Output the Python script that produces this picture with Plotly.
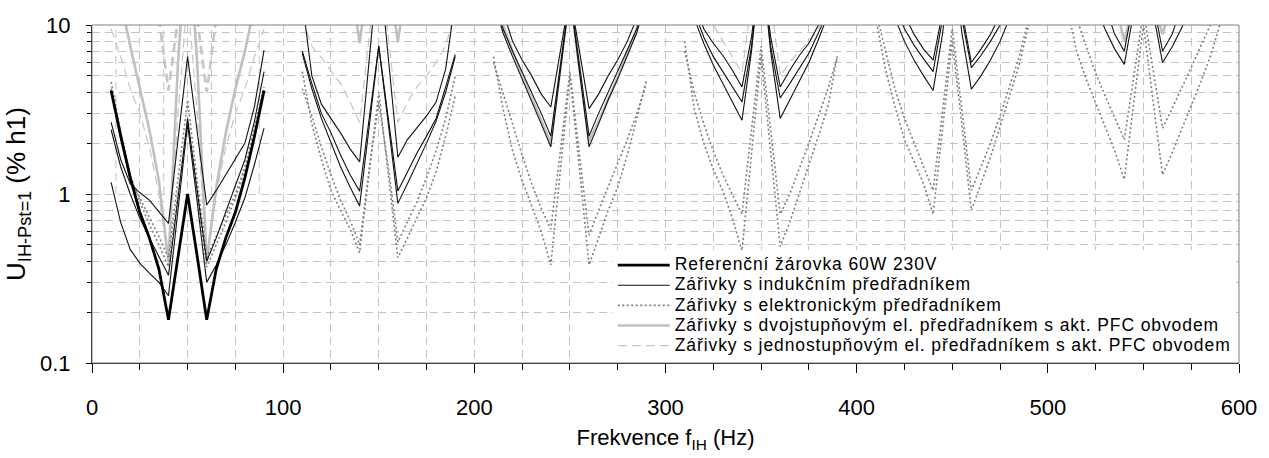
import plotly.graph_objects as go

# ---------------- data ----------------
OFFSETS = [10, 15, 20, 25, 30, 35, 40, 45, 50, 55, 60, 65, 70, 75, 80, 85, 90]
LOBE_BASES = [0, 100, 200, 300, 400, 500]
X_TICKS = [0, 100, 200, 300, 400, 500, 600]
Y_TICKS = [0.1, 1, 10]
Y_TICKTEXT = ["0.1", "1", "10"]
Y_MINOR = [0.2, 0.3, 0.4, 0.5, 0.6, 0.7, 0.8, 0.9, 2, 3, 4, 5, 6, 7, 8, 9]
EXTRA_GRID_X = [12.5, 37.5, 62.5, 87.5]

LEGEND_NAMES = [
    "Referenční žárovka 60W 230V",
    "Zářivky s indukčním předřadníkem",
    "Zářivky s elektronickým předřadníkem",
    "Zářivky s dvojstupňovým el. předřadníkem s akt. PFC obvodem",
    "Zářivky s jednostupňovým el. předřadníkem s akt. PFC obvodem",
]

# Referenční žárovka (thick black) - only first lobe inside the chart
BULB = [
    [4.1, 2.2, 1.25, 0.78, 0.55, 0.36, 0.18, 0.43, 1.0, 0.43, 0.18, 0.36, 0.55, 0.78, 1.25, 2.2, 4.1],
    None, None, None, None, None,
]

# Zářivky s indukčním předřadníkem (thin black), three lamps
IND_A = [
    [2.65, 1.6, 1.15, 1.02, 0.92, 0.78, 0.67, 2.1, 6.5, 2.35, 0.86, 1.05, 1.3, 1.6, 2.0, 3.3, 7.1],
    [14, 5.0, 3.4, 2.8, 2.3, 1.85, 1.55, 6.2, 25, 6.4, 1.65, 2.1, 2.45, 2.9, 3.5, 5.5, 14],
    [14, 12, 8.0, 6.2, 5.0, 3.9, 3.27, 7.0, 15, 7.0, 3.2, 3.9, 5.0, 6.2, 8.0, 11, 15],
    [25, 14, 9.5, 7.8, 6.6, 5.4, 4.3, 8.5, 25, 8.5, 4.3, 5.4, 6.6, 7.8, 10, 14, 25],
    [None, 25, 16, 11.5, 8.8, 7.2, 6.2, 12, 30, 12, 6.0, 7.2, 8.8, 11.5, 16, 25, None],
    None,
]
IND_B = [
    [2.4, 1.45, 1.0, 0.72, 0.55, 0.43, 0.33, 0.95, 2.8, 1.05, 0.40, 0.55, 0.78, 1.1, 1.6, 2.7, 5.3],
    [7.0, 4.5, 3.0, 2.3, 1.7, 1.3, 1.04, 2.8, 7.5, 2.8, 1.04, 1.35, 1.75, 2.2, 2.8, 4.3, 6.7],
    [15, 9.5, 7.0, 5.3, 4.0, 3.0, 2.2, 5.8, 15, 5.8, 2.2, 3.0, 4.0, 5.3, 7.0, 9.5, 15],
    [20, 12, 8.5, 6.5, 5.3, 4.3, 3.5, 7.5, 25, 7.5, 3.7, 4.5, 5.5, 6.8, 9.0, 12, 20],
    [None, 20, 13, 9.5, 7.6, 6.3, 5.3, 11, 30, 11, 5.6, 6.6, 8.0, 10, 13, 20, None],
    [None, None, None, 25, 13, 8.8, 7.0, 14, 30, 14, 7.0, 8.8, 13, 25, None, None, None],
]
IND_C = [
    [1.17, 0.68, 0.47, 0.39, 0.34, 0.30, 0.25, 0.8, 2.6, 0.9, 0.30, 0.38, 0.5, 0.68, 0.95, 1.5, 2.45],
    [6.8, 4.2, 2.8, 2.0, 1.45, 1.1, 0.85, 2.5, 7.5, 2.6, 0.88, 1.15, 1.5, 2.0, 2.7, 4.0, 6.5],
    [14, 9.0, 6.5, 4.8, 3.6, 2.6, 1.9, 5.3, 15, 5.3, 1.9, 2.6, 3.6, 4.8, 6.5, 9.0, 14],
    [18, 11, 7.8, 5.8, 4.5, 3.5, 2.73, 7.0, 25, 7.0, 2.8, 3.6, 4.6, 6.0, 8.2, 11.5, 18],
    [None, 18, 11, 8.0, 6.2, 5.0, 4.1, 9.0, 30, 9.0, 4.17, 5.0, 6.2, 8.0, 11, 18, None],
    [None, None, 25, 13, 9.4, 7.2, 5.85, 12, 30, 12, 6.0, 7.4, 9.6, 13, 25, None, None],
]

# Zářivky s elektronickým předřadníkem (dotted grey), two lamps
EL_1 = [
    [4.6, 2.3, 1.2, 0.95, 0.73, 0.56, 0.42, 1.2, 3.6, 1.2, 0.42, 0.56, 0.75, 1.0, 1.45, 2.5, 4.3],
    [5.3, 2.6, 1.6, 1.05, 0.8, 0.62, 0.45, 1.4, 4.0, 1.3, 0.42, 0.55, 0.72, 0.95, 1.35, 2.2, 3.8],
    [6.5, 3.2, 1.8, 1.2, 0.85, 0.6, 0.38, 1.4, 5.0, 1.4, 0.38, 0.55, 0.8, 1.1, 1.7, 2.8, 4.7],
    [8.0, 3.2, 2.0, 1.4, 1.04, 0.72, 0.46, 1.8, 6.5, 1.8, 0.49, 0.68, 1.0, 1.5, 2.2, 3.3, 6.7],
    [11, 5.5, 3.3, 2.1, 1.55, 1.15, 0.76, 2.5, 8.0, 2.6, 0.8, 1.15, 1.65, 2.5, 3.8, 5.8, 10],
    [13, 7.0, 4.8, 3.5, 2.5, 1.8, 1.22, 3.5, 10, 3.6, 1.3, 1.75, 2.4, 3.3, 4.6, 6.5, 10],
]
EL_2 = [
    [4.2, 2.3, 1.3, 0.9, 0.66, 0.5, 0.37, 1.0, 2.7, 1.0, 0.37, 0.5, 0.68, 0.95, 1.35, 2.3, 4.0],
    [4.2, 2.9, 1.9, 1.3, 0.92, 0.7, 0.5, 1.4, 3.5, 1.45, 0.52, 0.68, 0.9, 1.25, 1.8, 2.8, 5.0],
    [6.0, 4.0, 2.6, 1.7, 1.15, 0.82, 0.62, 1.8, 5.3, 1.7, 0.57, 0.8, 1.1, 1.5, 2.1, 3.0, 4.5],
    [7.0, 4.0, 2.6, 1.8, 1.3, 1.0, 0.76, 2.4, 7.5, 2.4, 0.76, 1.0, 1.4, 2.0, 2.9, 4.2, 6.5],
    [12, 7.0, 4.2, 2.8, 2.0, 1.45, 1.05, 3.2, 9.5, 3.2, 1.05, 1.45, 2.0, 2.9, 4.3, 6.5, 11],
    [20, 11, 7.5, 5.2, 3.8, 2.8, 2.1, 5.0, 12, 5.5, 2.45, 3.2, 4.2, 5.6, 7.5, 10, 14],
]

# Zářivky s dvojstupňovým el. předřadníkem s akt. PFC (solid light grey)
TWO_STAGE = [
    [30, 14, 7.5, 4.2, 2.4, 1.2, 0.40, 6.0, 40, 6.0, 0.40, 1.1, 2.3, 4.2, 7.0, 13, 25],
    [None, None, None, None, 30, 20, 7.8, 20, 30, 20, 7.9, 20, 30, None, None, None, None],
    [16, 10, 7.0, 5.0, 3.7, 2.7, 2.0, 5.5, 16, 5.5, 2.05, 2.7, 3.6, 4.9, 6.8, 9.5, 15],
    None,
    None,
    [None, None, None, None, None, 14, 8.0, 14, None, 14, 8.8, 14, None, None, None, None, None],
]

# Zářivky s jednostupňovým el. předřadníkem s akt. PFC (dashed light grey)
ONE_STAGE_1 = [
    [9.5, 6.5, 4.2, 3.0, 1.9, 1.0, 0.38, 3.0, 15, 3.0, 0.38, 1.0, 1.9, 3.0, 4.2, 6.5, 9.5],
    [11, 7.5, 6.4, 5.4, 4.5, 3.5, 2.65, 8.5, 25, 8.5, 2.65, 3.5, 4.3, 5.0, 6.0, 7.5, 12],
    None,
    [None, 30, 14, 10, 8.0, 6.4, 5.2, 14, 40, 14, 5.0, 6.0, 7.0, 8.0, 9.5, 13, 20],
    None,
    None,
]
ONE_STAGE_2 = [
    [None, None, None, None, None, 11, 4.1, 11, None, 11, 4.0, 11, None, None, None, None, None],
    None, None, None, None, None,
]

# ---------------- style ----------------
FONT = "Liberation Sans, Arial, Helvetica, sans-serif"
GRID = "#c4c4c4"
GRID_DASH = "8px,5px"
LEGEND_TEXT_STYLE = "font-size:17.5px;letter-spacing:0.9px"


def build(lobes):
    xs, ys = [], []
    for base, vals in zip(LOBE_BASES, lobes):
        if vals is None:
            continue
        for off, v in zip(OFFSETS, vals):
            xs.append(base + off)
            ys.append(v)
        xs.append(None)
        ys.append(None)
    return xs, ys


fig = go.Figure()

# (data, legend index, line style, show in legend); drawn light -> dark
SERIES = [
    (ONE_STAGE_1, 4, dict(color="#c6c6c6", width=1.2, dash="9px,5px"), True),
    (ONE_STAGE_2, 4, dict(color="#c6c6c6", width=2.6, dash="9px,5px"), False),
    (TWO_STAGE, 3, dict(color="#c0c0c0", width=2.6), True),
    (EL_1, 2, dict(color="#7f7f7f", width=1.6, dash="2px,2.5px"), True),
    (EL_2, 2, dict(color="#7f7f7f", width=1.6, dash="2px,2.5px"), False),
    (IND_A, 1, dict(color="#111111", width=1.1), True),
    (IND_B, 1, dict(color="#111111", width=1.1), False),
    (IND_C, 1, dict(color="#111111", width=1.1), False),
    (BULB, 0, dict(color="#000000", width=2.8), True),
]

for data, idx, line, show in SERIES:
    xs, ys = build(data)
    fig.add_trace(go.Scatter(
        x=xs, y=ys, mode="lines", line=line,
        name='<span style="' + LEGEND_TEXT_STYLE + '">' + LEGEND_NAMES[idx] + "</span>",
        legendgroup="g%d" % idx, legendrank=idx + 1, showlegend=show,
        hoverinfo="skip",
    ))

# extra dashed grid segments in the first band (upper decade)
for gx in EXTRA_GRID_X:
    fig.add_shape(type="line", xref="x", yref="y", x0=gx, x1=gx, y0=1, y1=10,
                  line=dict(color=GRID, width=1, dash=GRID_DASH), layer="below")

# grey frame on top/right
fig.add_shape(type="rect", xref="paper", yref="paper", x0=0, x1=1, y0=0, y1=1,
              line=dict(color="#808080", width=1), layer="above")

fig.update_layout(
    width=1269, height=458,
    margin=dict(l=92, r=25, t=25, b=90),
    paper_bgcolor="white", plot_bgcolor="white",
    font=dict(family=FONT, color="black", size=22),
    showlegend=True,
    legend=dict(
        x=0.454, y=0.006, xanchor="left", yanchor="bottom",
        bgcolor="white", borderwidth=0,
        font=dict(family=FONT, size=13.2, color="black"),
        itemwidth=52, tracegroupgap=0, traceorder="normal",
    ),
    xaxis=dict(
        range=[0, 600], tickvals=X_TICKS, ticks="outside", ticklen=9,
        tickcolor="black", tickfont=dict(size=22), ticklabelstandoff=16,
        showline=True, linecolor="black", linewidth=1, zeroline=False,
        showgrid=True, gridcolor=GRID, griddash=GRID_DASH, gridwidth=1,
        minor=dict(dtick=25, tick0=0, ticks="outside", ticklen=6, tickcolor="black",
                   showgrid=True, gridcolor=GRID, griddash=GRID_DASH, gridwidth=1),
        title=dict(text="Frekvence f<sub>IH</sub> (Hz)", font=dict(size=22), standoff=10),
        fixedrange=True,
    ),
    yaxis=dict(
        type="log", range=[-1, 1], tickvals=Y_TICKS, ticktext=Y_TICKTEXT,
        ticks="outside", ticklen=5, tickcolor="black", tickfont=dict(size=22),
        ticklabelstandoff=11,
        showline=True, linecolor="black", linewidth=1, zeroline=False,
        showgrid=True, gridcolor=GRID, griddash=GRID_DASH, gridwidth=1,
        minor=dict(tickvals=Y_MINOR, ticks="outside", ticklen=4, tickcolor="black",
                   showgrid=True, gridcolor=GRID, griddash=GRID_DASH, gridwidth=1),
        title=dict(text="U<sub>IH-Pst=1</sub> (% h1)", font=dict(size=26), standoff=6),
        fixedrange=True,
    ),
)

fig.write_html("out.html")
